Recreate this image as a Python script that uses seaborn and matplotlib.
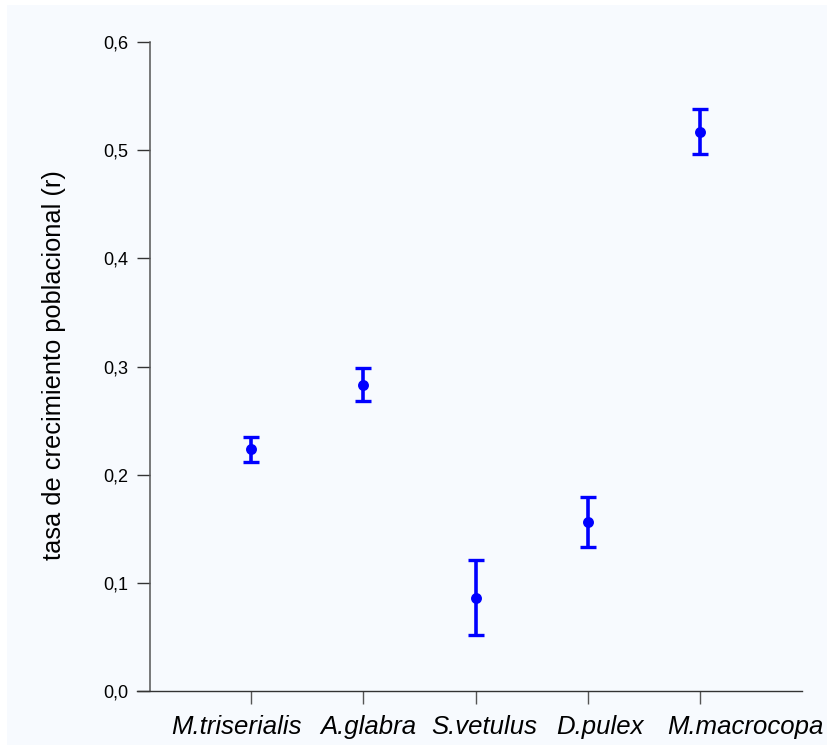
import matplotlib
matplotlib.use("Agg")
import matplotlib.pyplot as plt
from matplotlib.patches import Rectangle
from matplotlib.ticker import FuncFormatter
from matplotlib.transforms import ScaledTranslation
import seaborn as sns
import pandas as pd

# Population growth rate (r) per species: mean and standard error
species = ["M.triserialis", "A.glabra", "S.vetulus", "D.pulex", "M.macrocopa"]
r_mean = [0.2235, 0.2833, 0.0864, 0.1562, 0.5172]
r_se = [0.0116, 0.0153, 0.0350, 0.0232, 0.0209]
y_ticks = [0.0, 0.1, 0.2, 0.3, 0.4, 0.5, 0.6]

df = pd.DataFrame({"species": species, "r": r_mean, "se": r_se})

sns.set_theme(style="white")
plt.rcParams["font.family"] = ["Liberation Sans", "DejaVu Sans"]

W, H = 828, 745
DPI = 100
fig = plt.figure(figsize=(W / DPI, H / DPI), dpi=DPI, facecolor="white")
panel_color = "#F7FAFE"
fig.patches.append(Rectangle((7 / W, 0), 1 - 7 / W, 1 - 5 / H,
                             transform=fig.transFigure, facecolor=panel_color,
                             edgecolor="none", zorder=-10))

ax = fig.add_axes([137 / W, 1 - 691 / H, (802 - 137) / W, (691 - 42) / H])
ax.set_facecolor("none")

blue = "#0000FF"
ax.errorbar(range(len(species)), df["r"], yerr=df["se"], fmt="none",
            ecolor=blue, elinewidth=2.6, capsize=6.0, capthick=2.4, zorder=2)
sns.scatterplot(data=df, x="species", y="r", ax=ax, color=blue, s=62,
                edgecolor=blue, linewidth=0, zorder=3, legend=False)

ax.set_xlim(-1.016, 4.909)
ax.set_ylim(0, 0.6)
ax.set_yticks(y_ticks)
ax.yaxis.set_major_formatter(FuncFormatter(lambda v, p: f"{v:.1f}".replace(".", ",")))
ax.set_xticks(range(len(species)))
ax.set_xticklabels([])

# category labels, each nudged sideways (pixels) from its tick
label_shift = [-15, 5, 9, 12, 45]
for i, (name, dx) in enumerate(zip(species, label_shift)):
    tr = ax.get_xaxis_transform() + ScaledTranslation(dx / DPI, -43 / DPI, fig.dpi_scale_trans)
    ax.text(i, 0, name, transform=tr, ha="center", va="baseline",
            fontsize=18.5, fontstyle="italic", color="black", clip_on=False)

for s in ["top", "right"]:
    ax.spines[s].set_visible(False)
ax.spines["left"].set_position(("data", -0.90))
ax.spines["left"].set_color("#555555")
ax.spines["bottom"].set_color("#333333")
ax.spines["left"].set_linewidth(1.1)
ax.spines["bottom"].set_linewidth(1.0)

ax.tick_params(axis="y", which="both", left=True, length=9.4, width=1.0,
               color="#333333", labelsize=13, labelcolor="black", pad=6)
ax.tick_params(axis="x", which="both", bottom=True, length=9.4, width=1.0,
               color="#555555", labelcolor="black", pad=4)

ax.set_xlabel("")
ax.set_ylabel("")
fig.text(54 / W, 1 - 365 / H, "tasa de crecimiento poblacional (r)",
         rotation=90, ha="center", va="center", fontsize=18.3, color="black")

fig.savefig("out.png", dpi=DPI, facecolor="white")
